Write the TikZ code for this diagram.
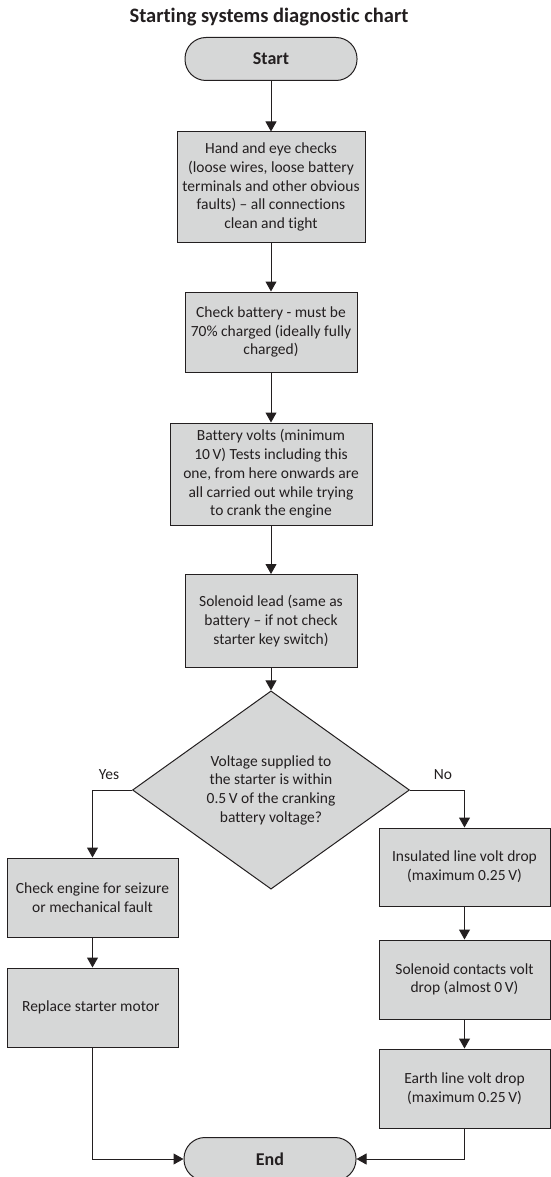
\documentclass[tikz,border=0pt]{standalone}
\usepackage{fontspec}
\setmainfont{Carlito}[Ligatures={NoCommon,TeX}]
\usepackage{xcolor}
\usetikzlibrary{positioning, arrows.meta, shapes.geometric, calc}
\definecolor{boxGray}{RGB}{214,215,215}
\definecolor{lineDark}{RGB}{35,31,32}

\begin{document}
\begin{tikzpicture}[x=1pt, y=-1pt,
  chartfont/.style={font=\fontsize{15.5}{18.7}\selectfont},
  stepbox/.style={draw=lineDark, fill=boxGray, line width=1pt, align=center,
                  inner sep=2pt, chartfont, text=lineDark},
  term/.style={stepbox, rounded corners=21pt, minimum width=172, minimum height=43,
               font=\fontsize{18}{20}\selectfont\bfseries},
  decision/.style={stepbox, diamond, inner sep=0pt},
  flow/.style={draw=lineDark, line width=1pt, -{Triangle[length=10pt, width=11pt]}},
  branch/.style={chartfont, text=lineDark},
]
  \useasboundingbox (0,0) rectangle (551,1177);

  \node[font=\fontsize{20.5}{24}\selectfont\bfseries, text=lineDark, anchor=base]
    (title) at (269,23) {Starting systems diagnostic chart};

  \node[term] (start) at (271,59) {Start};
  \node[stepbox, minimum width=188, minimum height=110] (hand) at (271,187) {
    Hand and eye checks\\
    (loose wires, loose battery\\
    terminals and other obvious\\
    faults) -- all connections\\
    clean and tight
  };
  \node[stepbox, minimum width=172, minimum height=80] (batt) at (271,332) {
    Check battery - must be\\
    70\% charged (ideally fully\\
    charged)
  };
  \node[stepbox, minimum width=202, minimum height=102] (volts) at (271,474) {
    Battery volts (minimum\\
    10\,V) Tests including this\\
    one, from here onwards are\\
    all carried out while trying\\
    to crank the engine
  };
  \node[stepbox, minimum width=172, minimum height=93] (sollead) at (271,621) {
    Solenoid lead (same as\\
    battery -- if not check\\
    starter key switch)
  };
  \node[decision, minimum width=277, minimum height=165] (dec) at (271,790) {
    Voltage supplied to\\
    the starter is within\\
    0.5\,V of the cranking\\
    battery voltage?
  };

  \node[stepbox, minimum width=171, minimum height=79] (chk) at (92.5,897.5) {
    Check engine for seizure\\
    or mechanical fault
  };
  \node[stepbox, minimum width=171, minimum height=79] (repl) at (92.5,1007.5) {
    Replace starter motor
  };

  \node[stepbox, minimum width=171, minimum height=78] (insul) at (464.5,867) {
    Insulated line volt drop\\
    (maximum 0.25\,V)
  };
  \node[stepbox, minimum width=171, minimum height=79] (solcont) at (464.5,979.5) {
    Solenoid contacts volt\\
    drop (almost 0\,V)
  };
  \node[stepbox, minimum width=171, minimum height=79] (earth) at (464.5,1088.5) {
    Earth line volt drop\\
    (maximum 0.25\,V)
  };

  \node[term] (finish) at (270,1159) {End};

  \node[branch] (yes) at (109,775) {Yes};
  \node[branch] (no) at (443,775) {No};

  \draw[flow] (start) -- (hand);
  \draw[flow] (hand) -- (batt);
  \draw[flow] (batt) -- (volts);
  \draw[flow] (volts) -- (sollead);
  \draw[flow] (sollead) -- (dec);
  \draw[flow] (dec.west) -| (chk);
  \draw[flow] (dec.east) -| (insul);
  \draw[flow] (chk) -- (repl);
  \draw[flow] (insul) -- (solcont);
  \draw[flow] (solcont) -- (earth);
  \draw[flow] (repl) |- (finish);
  \draw[flow] (earth) |- (finish);
\end{tikzpicture}
\end{document}
